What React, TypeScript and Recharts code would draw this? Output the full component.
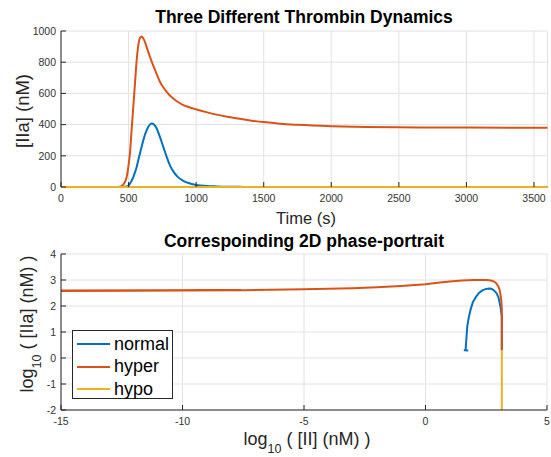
import React from 'react';
import { LineChart, Line, XAxis, YAxis, CartesianGrid, Legend } from 'recharts';

// top panel: [IIa] over time
const times = [0, 400, 436, 460, 486, 500, 510, 522, 535, 548, 560, 570, 580, 590, 600, 610, 621, 634, 645, 658, 671, 688, 708, 732, 757, 782, 806, 831, 860, 905, 950, 1003, 1075, 1151, 1240, 1324, 1400, 1500, 1620, 1750, 2000, 2250, 2500, 3000, 3600];
const normalIIa = [0, 0, 0, 0, 3, 10, 21, 40, 64, 95, 128, 165, 200, 235, 270, 302, 335, 364, 385, 400, 407, 400, 375, 321, 257, 193, 139, 100, 68, 40, 24, 13, 7, 4, 2, 1, 0, 0, 0, 0, 0, 0, 0, 0, 0];
const hyperIIa = [0, 0, 2, 15, 64, 140, 214, 360, 514, 670, 814, 895, 945, 962, 963, 950, 931, 897, 868, 835, 804, 767, 724, 675, 639, 610, 587, 567, 548, 525, 511, 497, 480, 464, 449, 437, 427, 416, 406, 399, 390, 385, 383, 381, 380];
const hypoIIa = [0, 0, 0, 0, 0, 0, 0, 0, 0, 0, 0, 0, 0, 0, 0, 0, 0, 0, 0, 0, 0, 0, 0, 0, 0, 0, 0, 0, 0, 0, 0, 0, 0, 0, 0, 0, 0, 0, 0, 0, 0, 0, 0, 0, 0];

const timeTicks = [0, 500, 1000, 1500, 2000, 2500, 3000, 3500];
const iiaTicks = [0, 200, 400, 600, 800, 1000];

// bottom panel: log10 [II] vs log10 [IIa]
const normalLogII = [3.14, 3.14, 3.09, 3.0, 2.92, 2.82, 2.72, 2.61, 2.47, 2.34, 2.2, 2.07, 1.95, 1.86, 1.78, 1.72, 1.68, 1.65, 1.58, 1.76, 1.66];
const normalLogIIa = [0.3, 1.6, 1.95, 2.34, 2.5, 2.6, 2.66, 2.67, 2.65, 2.6, 2.5, 2.34, 2.15, 1.88, 1.55, 1.23, 0.7, 0.31, 0.3, 0.29, 0.3];
const hyperLogII = [3.14, 3.14, 3.14, 3.12, 3.09, 3.05, 3.0, 2.9, 2.82, 2.7, 2.5, 2.0, 1.5, 1.0, 0.5, 0, -1, -2, -3, -5, -7.5, -10, -12, -15, -7.6, -15];
const hyperLogIIa = [0.3, 1.0, 1.9, 2.2, 2.42, 2.62, 2.75, 2.89, 2.94, 2.98, 3.0, 3.0, 2.98, 2.94, 2.89, 2.84, 2.77, 2.72, 2.68, 2.64, 2.61, 2.6, 2.59, 2.575, 2.62, 2.6];
const hypoLogII = [3.14, 3.14];
const hypoLogIIa = [-2, 0.3];

const logIITicks = [-15, -10, -5, 0, 5];
const logIIaTicks = [-2, -1, 0, 1, 2, 3, 4];

const colors: Record<string, string> = { normal: '#0072BD', hyper: '#D95319', hypo: '#EDB120' };

const timeData = times.map((t, i) => ({ t, normal: normalIIa[i], hyper: hyperIIa[i], hypo: hypoIIa[i] }));
const zip = (xs: number[], ys: number[]) => xs.map((x, i) => ({ x, y: ys[i] }));
const normalPhase = zip(normalLogII, normalLogIIa);
const hyperPhase = zip(hyperLogII, hyperLogIIa);
const hypoPhase = zip(hypoLogII, hypoLogIIa);

const font = '"Liberation Sans", Arial, Helvetica, sans-serif';
const axisColor = '#262626';
const tickStyle = { fontSize: 10.5, fill: '#333', fontFamily: font };

const renderLegend = () => (
  <div style={{ width: 99, height: 67, border: `1px solid ${axisColor}`, background: '#fff', fontFamily: font, fontSize: 18, color: '#000', position: 'relative' }}>
    {['normal', 'hyper', 'hypo'].map((name, i) => (
      <div key={name} style={{ position: 'absolute', left: 4, top: 2 + i * 22.5, height: 22, display: 'flex', alignItems: 'center' }}>
        <span style={{ display: 'inline-block', width: 33, height: 2, background: colors[name], marginRight: 4 }} />
        <span>{name}</span>
      </div>
    ))}
  </div>
);

export default function App() {
  return (
    <div style={{ position: 'absolute', left: 0, top: 0, width: 551, height: 457, background: '#fff', fontFamily: font }}>
      <div style={{ position: 'absolute', left: 0, top: 0 }}>
        <LineChart width={551} height={230} data={timeData} margin={{ top: 31, right: 3.5, left: 0, bottom: 13 }}>
          <CartesianGrid stroke="#e2e2e2" />
          {/* the hypo series sits on zero and hides the bottom axis line */}
          <XAxis dataKey="t" type="number" domain={[0, 3600]} ticks={timeTicks} height={30} tickSize={-5} tickMargin={13} tick={tickStyle} stroke={axisColor} axisLine={false} />
          <XAxis xAxisId="top" orientation="top" type="number" domain={[0, 3600]} ticks={timeTicks} height={0} tickSize={-5} tick={false} stroke={axisColor} />
          <YAxis type="number" domain={[0, 1000]} ticks={iiaTicks} width={61} tickSize={-5} tickMargin={10} tick={tickStyle} stroke={axisColor} />
          <YAxis yAxisId="right" orientation="right" type="number" domain={[0, 1000]} ticks={iiaTicks} width={0} tickSize={-5} tick={false} stroke={axisColor} />
          <Line type="monotone" dataKey="normal" stroke={colors.normal} strokeWidth={2} dot={false} isAnimationActive={false} />
          <Line type="monotone" dataKey="hyper" stroke={colors.hyper} strokeWidth={2} dot={false} isAnimationActive={false} />
          <Line type="monotone" dataKey="hypo" stroke={colors.hypo} strokeWidth={2} dot={false} isAnimationActive={false} />
        </LineChart>
      </div>
      <div style={{ position: 'absolute', left: 0, top: 232 }}>
        <LineChart width={551} height={225} margin={{ top: 22, right: 4, left: 0, bottom: 17 }}>
          <CartesianGrid stroke="#e2e2e2" />
          <XAxis dataKey="x" type="number" domain={[-15, 5]} ticks={logIITicks} height={30} tickSize={-5} tickMargin={13} tick={tickStyle} stroke={axisColor} allowDuplicatedCategory={false} />
          <XAxis xAxisId="top" orientation="top" dataKey="x" type="number" domain={[-15, 5]} ticks={logIITicks} height={0} tickSize={-5} tick={false} stroke={axisColor} />
          <YAxis type="number" domain={[-2, 4]} ticks={logIIaTicks} width={61} tickSize={-5} tickMargin={10} tick={tickStyle} stroke={axisColor} />
          <YAxis yAxisId="right" orientation="right" type="number" domain={[-2, 4]} ticks={logIIaTicks} width={0} tickSize={-5} tick={false} stroke={axisColor} />
          <Line data={normalPhase} dataKey="y" name="normal" type="linear" stroke={colors.normal} strokeWidth={2} dot={false} isAnimationActive={false} />
          <Line data={hyperPhase} dataKey="y" name="hyper" type="linear" stroke={colors.hyper} strokeWidth={2} dot={false} isAnimationActive={false} />
          <Line data={hypoPhase} dataKey="y" name="hypo" type="linear" stroke={colors.hypo} strokeWidth={2} dot={false} isAnimationActive={false} />
          <Legend layout="vertical" align="center" verticalAlign="middle" content={renderLegend} wrapperStyle={{ left: 72, top: 98, width: 101 }} />
        </LineChart>
      </div>
      <svg width={551} height={457} style={{ position: 'absolute', left: 0, top: 0, pointerEvents: 'none' }} fontFamily={font}>
        <text x={304} y={23.3} textAnchor="middle" fontWeight="bold" fontSize={17.5} fill="#000">Three Different Thrombin Dynamics</text>
        <text x={306} y={224.3} textAnchor="middle" fontSize={16.5} fill={axisColor}>Time (s)</text>
        <text transform="translate(28.5,111) rotate(-90)" textAnchor="middle" fontSize={18.5} fill={axisColor}>[IIa] (nM)</text>
        <text x={304} y={246.7} textAnchor="middle" fontWeight="bold" fontSize={17.5} fill="#000">Correspoinding 2D phase-portrait</text>
        <text x={307} y={445} textAnchor="middle" fontSize={18} fill={axisColor}>
          log<tspan fontSize={12.5} dy={8}>10</tspan><tspan dy={-8}> ( [II] (nM) )</tspan>
        </text>
        <text transform="translate(33,324) rotate(-90)" textAnchor="middle" fontSize={18} fill={axisColor}>
          log<tspan fontSize={12.5} dy={8}>10</tspan><tspan dy={-8}> ( [IIa] (nM) )</tspan>
        </text>
      </svg>
    </div>
  );
}
